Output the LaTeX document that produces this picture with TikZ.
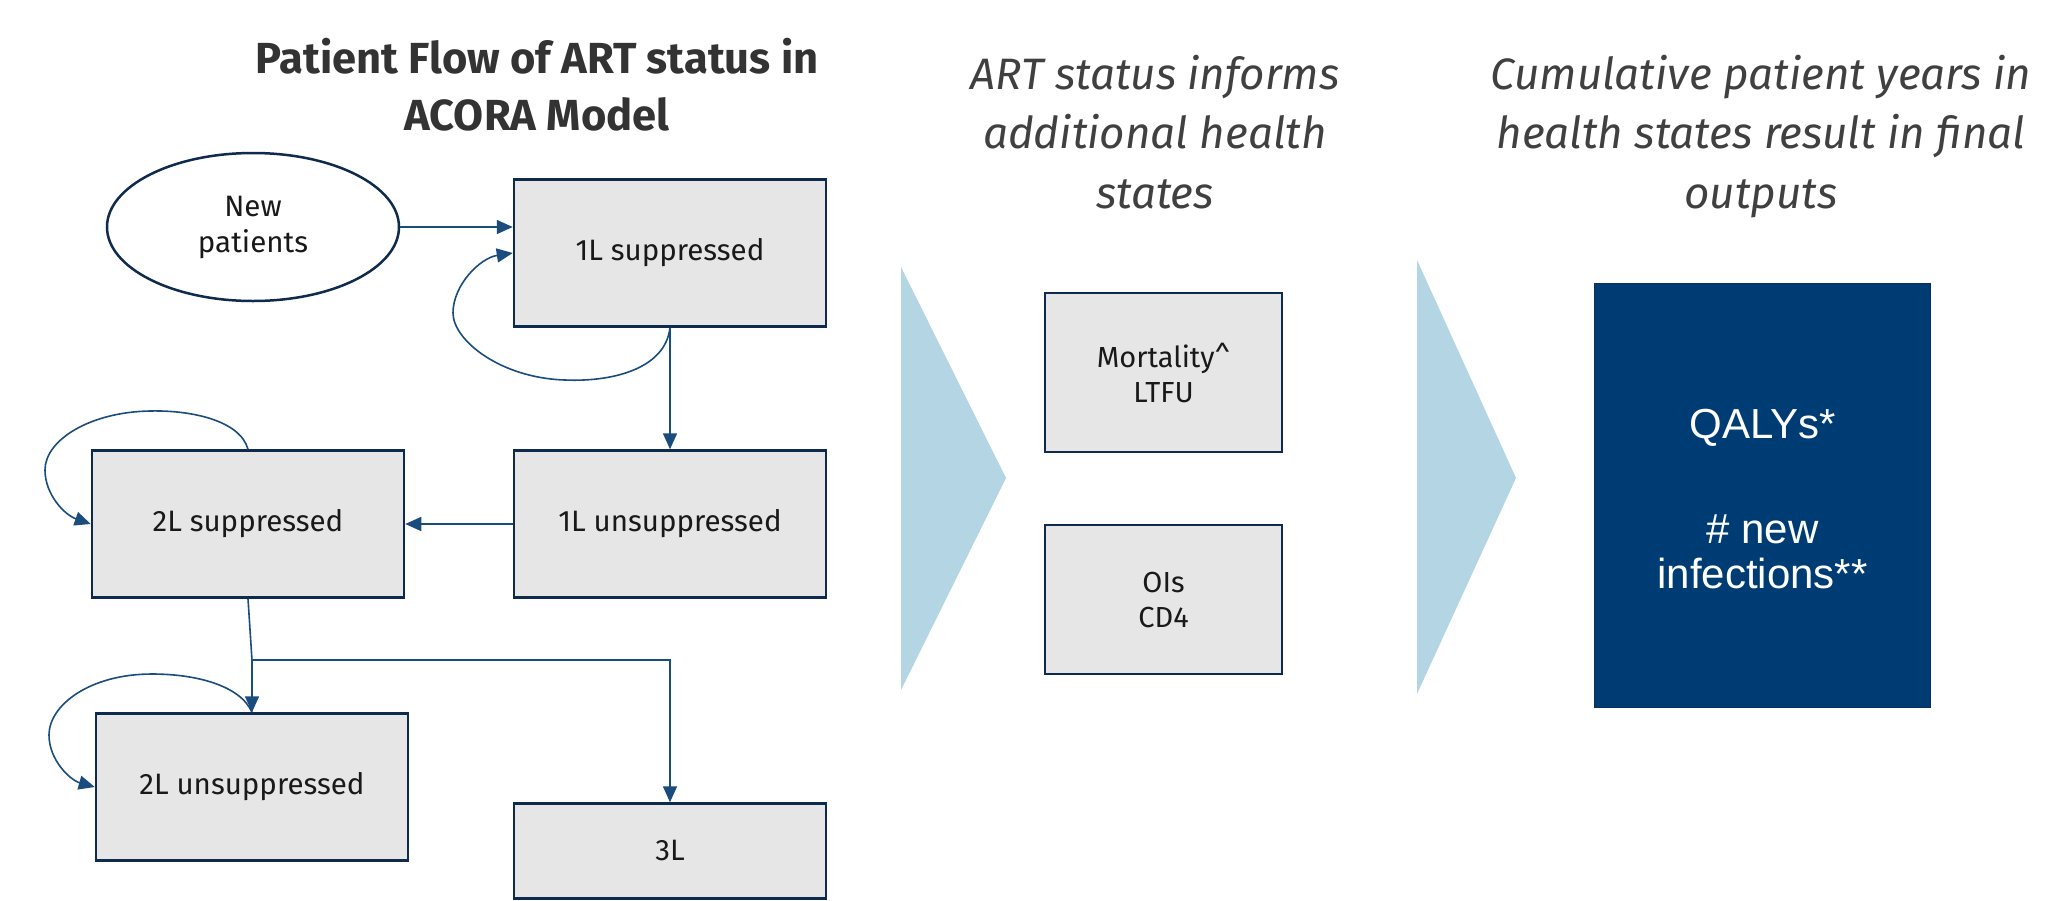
\documentclass[tikz,border=0pt]{standalone}
\usepackage{fontspec}
\setmainfont{Fira Sans}
\newfontfamily\arialfont{Liberation Sans}
\usetikzlibrary{arrows.meta,calc,shapes.geometric}
\definecolor{boxfill}{HTML}{E6E6E6}
\definecolor{boxline}{HTML}{0E2A4C}
\definecolor{arr}{HTML}{1A4C7E}
\definecolor{navy}{HTML}{003C74}
\definecolor{navyline}{HTML}{0B2F5C}
\definecolor{chev}{HTML}{B4D5E3}
\definecolor{hdr}{HTML}{404040}
\definecolor{ttl}{HTML}{333333}
\begin{document}
\begin{tikzpicture}[x=1pt,y=-1pt,
  statebox/.style={draw=boxline,line width=2.5pt,fill=boxfill,minimum width=312pt,minimum height=147pt,inner sep=0pt,font=\fontsize{29.5}{37}\selectfont,text=black!90,align=center},
  smallbox/.style={draw=boxline,line width=2.2pt,fill=boxfill,minimum width=237pt,inner sep=0pt,font=\fontsize{29}{35}\selectfont,text=black!90,align=center},
  flow/.style={draw=arr,line width=1.6pt,-{Triangle[length=16pt,width=14pt]}},
  plain/.style={draw=arr,line width=1.6pt},
  header/.style={font=\fontsize{44}{59.5}\selectfont\itshape,text=hdr,align=center,inner sep=0pt,anchor=base},
]
\useasboundingbox (0,0) rectangle (2058,900);
\fill[white] (0,0) rectangle (2058,900);

% title
\node[font=\fontsize{43.5}{57}\selectfont\bfseries,text=ttl,align=center,inner sep=0pt,anchor=base] (title) at (537,130) {Patient Flow of ART status in\\ACORA Model};

% left flow
\node[ellipse,draw=boxline,line width=2.5pt,fill=white,minimum width=292pt,minimum height=148pt,inner sep=0pt,font=\fontsize{29.5}{36}\selectfont,text=black!90,align=center] (np) at (253,227) {New\\patients};
\node[statebox] (s1) at (670,253) {1L suppressed};
\node[statebox] (u1) at (670,524) {1L unsuppressed};
\node[statebox] (s2) at (248,524) {2L suppressed};
\node[statebox] (u2) at (252,787) {2L unsuppressed};
\node[statebox,minimum height=95pt] (l3) at (670,851) {3L};
\coordinate (split) at (252,660);

\draw[flow] (np.east) -- (np.east -| s1.west);
\draw[flow] (s1.south) .. controls (665,370) and (610,382) .. (565,380)
  .. controls (500,378) and (453,340) .. (453,313)
  .. controls (453,285) and (480,258) .. (s1.west);
\draw[flow] (s1.south) -- (u1.north);
\draw[flow] (u1.west) -- (s2.east);
\draw[flow] (s2.north) .. controls (240,420) and (190,410) .. (150,411)
  .. controls (90,412) and (45,440) .. (45,470)
  .. controls (45,495) and (65,515) .. (s2.west);
\draw[plain] (s2.south) -- (split);
\draw[flow] (split) -- (u2.north);
\draw[flow] (split) -- (split -| l3.north) -- (l3.north);
\draw[flow] (u2.north) .. controls (240,685) and (195,674) .. (152,674)
  .. controls (90,674) and (49,705) .. (49,735)
  .. controls (49,760) and (70,780) .. (u2.west);

% chevrons
\fill[chev] (901,267) -- (1006,478) -- (901,690) -- cycle;
\fill[chev] (1417,260) -- (1516,478) -- (1417,694) -- cycle;

% middle column
\node[header] (h1) at (1155,208) {ART status informs\\additional health\\states};
\node[smallbox,minimum height=159pt] (mort) at (1163.5,372.5) {Mortality\textasciicircum\\LTFU};
\node[smallbox,minimum height=149pt] (ois) at (1163.5,599.5) {OIs\\CD4};

% right column
\node[header] (h2) at (1761,208) {Cumulative patient years in\\health states result in final\\outputs};
\node[draw=navyline,line width=1.5pt,fill=navy,minimum width=336pt,minimum height=424pt,inner sep=0pt,text=white,align=center,font=\arialfont\fontsize{42}{45}\selectfont] (out) at (1762.5,495.5) {};
\node[text=white,align=center,inner sep=0pt,font=\arialfont\fontsize{42}{45}\selectfont] (outtext) at (1762.5,499.5) {QALYs*\\[60pt]\# new\\infections**};
\end{tikzpicture}
\end{document}
